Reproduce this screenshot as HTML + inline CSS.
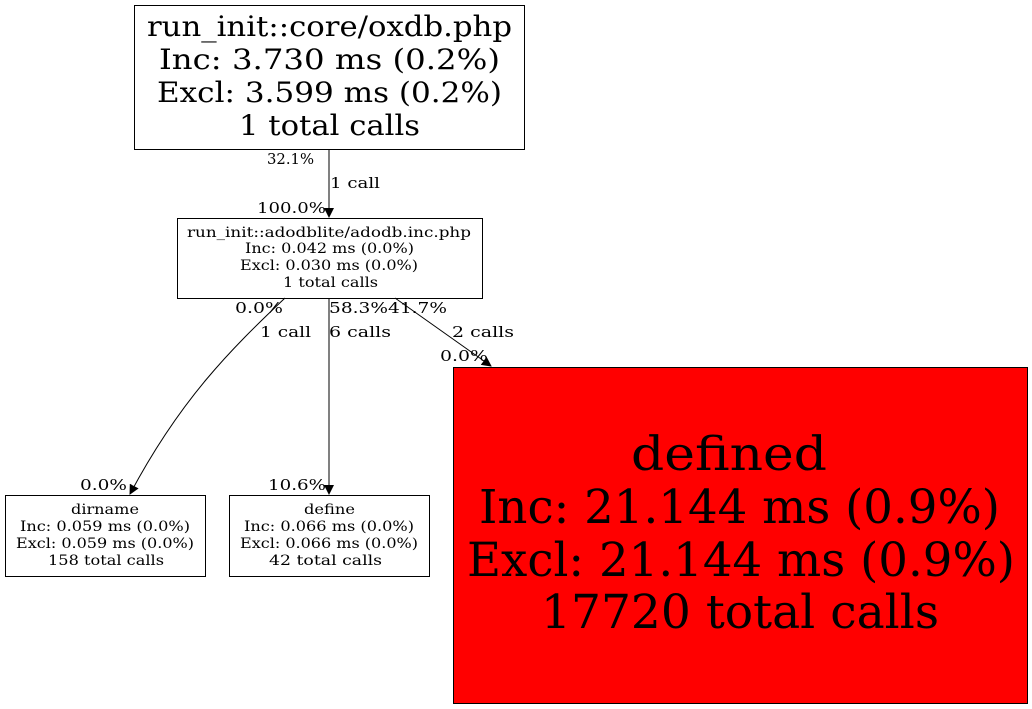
<!DOCTYPE html>
<html><head><meta charset="utf-8"><style>
html,body{margin:0;padding:0;background:#fff;}
svg{display:block;font-family:"DejaVu Serif","Liberation Serif",serif;}
</style></head><body>
<svg width="1032" height="709" viewBox="0 0 1032 709" xmlns="http://www.w3.org/2000/svg">
<rect x="0" y="0" width="1032" height="709" fill="#fff"/>
<defs><marker id="a" markerWidth="10" markerHeight="10" refX="9" refY="5" orient="auto" markerUnits="userSpaceOnUse"><path d="M0,0 L10,5 L0,10 z" fill="#000"/></marker></defs>
<rect x="134.5" y="5.5" width="390" height="144" fill="#fff" stroke="#000"/>
<g font-size="28">
<text x="147" y="36" textLength="365" lengthAdjust="spacingAndGlyphs">run_init::core/oxdb.php</text>
<text x="159" y="69" textLength="341" lengthAdjust="spacingAndGlyphs">Inc: 3.730 ms (0.2%)</text>
<text x="157" y="102" textLength="345" lengthAdjust="spacingAndGlyphs">Excl: 3.599 ms (0.2%)</text>
<text x="239" y="135" textLength="181" lengthAdjust="spacingAndGlyphs">1 total calls</text>
</g>
<rect x="177.5" y="218.5" width="305" height="80" fill="#fff" stroke="#000"/>
<g font-size="14">
<text x="187" y="237" textLength="284" lengthAdjust="spacingAndGlyphs">run_init::adodblite/adodb.inc.php</text>
<text x="245" y="253" textLength="169" lengthAdjust="spacingAndGlyphs">Inc: 0.042 ms (0.0%)</text>
<text x="240" y="270" textLength="178" lengthAdjust="spacingAndGlyphs">Excl: 0.030 ms (0.0%)</text>
<text x="283" y="287" textLength="95" lengthAdjust="spacingAndGlyphs">1 total calls</text>
</g>
<rect x="5.5" y="495.5" width="200" height="81" fill="#fff" stroke="#000"/>
<g font-size="14">
<text x="71" y="514" textLength="68" lengthAdjust="spacingAndGlyphs">dirname</text>
<text x="20" y="531" textLength="170" lengthAdjust="spacingAndGlyphs">Inc: 0.059 ms (0.0%)</text>
<text x="16" y="548" textLength="178" lengthAdjust="spacingAndGlyphs">Excl: 0.059 ms (0.0%)</text>
<text x="48" y="565" textLength="116" lengthAdjust="spacingAndGlyphs">158 total calls</text>
</g>
<rect x="229.5" y="495.5" width="200" height="81" fill="#fff" stroke="#000"/>
<g font-size="14">
<text x="304" y="514" textLength="51" lengthAdjust="spacingAndGlyphs">define</text>
<text x="244" y="531" textLength="170" lengthAdjust="spacingAndGlyphs">Inc: 0.066 ms (0.0%)</text>
<text x="240" y="548" textLength="178" lengthAdjust="spacingAndGlyphs">Excl: 0.066 ms (0.0%)</text>
<text x="269" y="565" textLength="113" lengthAdjust="spacingAndGlyphs">42 total calls</text>
</g>
<rect x="453.5" y="367.5" width="574" height="336" fill="#ff0000" stroke="#000"/>
<g font-size="47">
<text x="631" y="470" textLength="196" lengthAdjust="spacingAndGlyphs">defined</text>
<text x="479" y="523" textLength="521" lengthAdjust="spacingAndGlyphs">Inc: 21.144 ms (0.9%)</text>
<text x="467" y="576" textLength="548" lengthAdjust="spacingAndGlyphs">Excl: 21.144 ms (0.9%)</text>
<text x="541" y="628" textLength="398" lengthAdjust="spacingAndGlyphs">17720 total calls</text>
</g>
<g stroke="#000" fill="none" stroke-width="1">
<line x1="329" y1="149" x2="329" y2="217" marker-end="url(#a)"/>
<path d="M285,298 C230,350 180,400 130,494" marker-end="url(#a)"/>
<line x1="329" y1="298" x2="329" y2="494" marker-end="url(#a)"/>
<line x1="395" y1="298" x2="491" y2="366" marker-end="url(#a)"/>
</g>
<g font-size="15">
<text x="267" y="164" textLength="47" lengthAdjust="spacingAndGlyphs">32.1%</text>
<text x="330" y="188" textLength="50" lengthAdjust="spacingAndGlyphs">1 call</text>
<text x="257" y="213" textLength="69" lengthAdjust="spacingAndGlyphs">100.0%</text>
<text x="235" y="313" textLength="48" lengthAdjust="spacingAndGlyphs">0.0%</text>
<text x="260" y="337" textLength="51" lengthAdjust="spacingAndGlyphs">1 call</text>
<text x="80" y="490" textLength="47" lengthAdjust="spacingAndGlyphs">0.0%</text>
<text x="329" y="313" textLength="59" lengthAdjust="spacingAndGlyphs">58.3%</text>
<text x="329" y="337" textLength="62" lengthAdjust="spacingAndGlyphs">6 calls</text>
<text x="268" y="490" textLength="58" lengthAdjust="spacingAndGlyphs">10.6%</text>
<text x="388" y="313" textLength="59" lengthAdjust="spacingAndGlyphs">41.7%</text>
<text x="452" y="337" textLength="62" lengthAdjust="spacingAndGlyphs">2 calls</text>
<text x="440" y="361" textLength="48" lengthAdjust="spacingAndGlyphs">0.0%</text>
</g>
</svg>
</body></html>
